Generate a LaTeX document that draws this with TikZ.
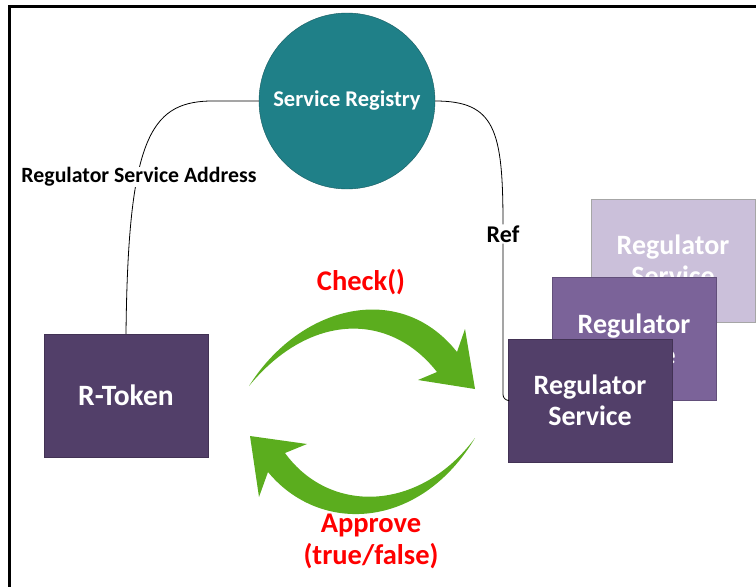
\documentclass[tikz,border=0pt]{standalone}
\usepackage{fontspec}
\setmainfont{Carlito}
\usetikzlibrary{positioning}
\definecolor{tokenpurple}{RGB}{82,63,105}
\definecolor{midpurple}{RGB}{123,99,153}
\definecolor{lightpurple}{RGB}{203,192,218}
\definecolor{registryteal}{RGB}{31,128,136}
\definecolor{arrowgreen}{RGB}{91,173,30}

\begin{document}
\begin{tikzpicture}[x=1pt, y=-1pt,
        box/.style={minimum width=164pt, minimum height=123pt, inner sep=0pt, align=center,
            text=white, font=\fontsize{28}{31}\selectfont\bfseries},
        lbl/.style={fill=white, inner sep=1pt, font=\fontsize{21.8}{24}\selectfont\bfseries},
        redlbl/.style={text=red, align=center, font=\fontsize{28.5}{32}\selectfont\bfseries},
        wire/.style={draw=black, line width=0.8pt},
        bigarrow/.style={fill=arrowgreen, draw=none}]
        \useasboundingbox (0,0) rectangle (756,587);

        % frame
        \draw[line width=3pt] (9,587) -- (9,6) -- (756,6);

        \node[circle, minimum size=176pt, inner sep=0pt, fill=registryteal, draw=registryteal!70!black,
            text=white, font=\fontsize{22.5}{24}\selectfont\bfseries] (registry) at (347,101) {Service Registry};

        \node[box, fill=tokenpurple, draw=tokenpurple!80!black, font=\fontsize{29.5}{31}\selectfont\bfseries]
            (rtoken) at (126,395.5) {R-Token};

        \node[box, fill=lightpurple, draw=gray!70] (back) at (673,260.5) {Regulator\\Service};
        \node[box, fill=midpurple, draw=midpurple!80!black] (middle) at (634,339) {Regulator\\Service};
        \node[box, fill=tokenpurple, draw=tokenpurple!80!black] (front) at (590,400.5) {Regulator\\Service};

        \draw[wire] (registry.west) -- ++(-50,0) .. controls (150,103) and (128,140) .. (rtoken.north);
        \node[lbl] (addr) at (139,177) {Regulator Service Address};

        \node[lbl, font=\fontsize{24}{26}\selectfont\bfseries] (ref) at (503,234) {Ref};
        \draw[wire] (registry.east) .. controls (495,101) and (503,130) .. (ref.north);
        \draw[wire, rounded corners=6pt] (ref.south) |- (front.west);

        % green arrows
        \fill[bigarrow] (249,386) .. controls (300,305) and (400,280) .. (457,352)
            -- (465,329) -- (475,389) -- (418,380) -- (437,372)
            .. controls (390,312) and (310,312) .. (249,386) -- cycle;
        \fill[bigarrow] (475,438) .. controls (420,530) and (320,535) .. (268,472)
            -- (259,497) -- (250,436) -- (307,444) -- (285,453)
            .. controls (330,515) and (420,512) .. (475,438) -- cycle;

        \node[redlbl] (check) at (361,282) {Check()};
        \node[redlbl] (approve) at (371,541) {Approve\\(true/false)};
    \end{tikzpicture}
\end{document}
